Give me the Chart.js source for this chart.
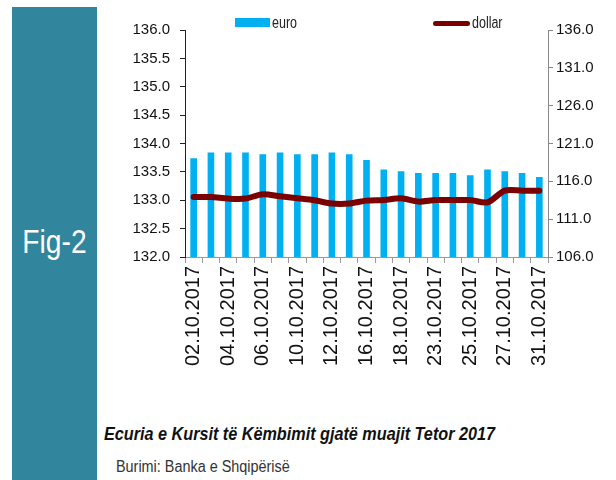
<!DOCTYPE html>
<html>
<head>
<meta charset="utf-8">
<script src="https://cdn.jsdelivr.net/npm/chart.js@4.4.1/dist/chart.umd.min.js"></script>
<style>
  html, body { margin: 0; padding: 0; background: #fff; }
  body { width: 616px; height: 480px; position: relative; overflow: hidden;
         font-family: "Liberation Sans", Arial, sans-serif; }
  #panel { position: absolute; left: 12px; top: 7px; width: 85px; height: 473px; background: #31859c; }
  #fig { position: absolute; left: 12px; width: 85px; top: 222px; text-align: center;
         color: #fff; font-size: 34px; transform: scaleX(0.83); }
  #wrap { position: absolute; left: 100px; top: 0; width: 516px; height: 400px; }
  .leg { position: absolute; top: 14px; font-size: 16px; color: #222;
         transform: scaleX(0.78); transform-origin: left top; }
  .sw { position: absolute; }
  #title { position: absolute; left: 104px; top: 424px; font-size: 18px; font-weight: bold;
           font-style: italic; color: #111; transform: scaleX(0.9); transform-origin: left top; }
  #src { position: absolute; left: 116px; top: 458px; font-size: 16px; color: #333;
         transform: scaleX(0.9); transform-origin: left top; }
</style>
</head>
<body>
<div id="panel"></div>
<div id="fig">Fig-2</div>
<div id="wrap"><canvas id="chart-fx"></canvas></div>
<div class="sw" style="left:235px;top:18px;width:35px;height:9px;background:#00b0f0"></div>
<div class="leg" style="left:272px">euro</div>
<div class="sw" style="left:433px;top:21px;width:37px;height:5px;border-radius:3px;background:#7b0000"></div>
<div class="leg" style="left:472px">dollar</div>
<div id="title">Ecuria e Kursit të Këmbimit gjatë muajit Tetor 2017</div>
<div id="src">Burimi: Banka e Shqipërisë</div>
<script>
const dates = ['02.10.2017', '03.10.2017', '04.10.2017', '05.10.2017', '06.10.2017', '09.10.2017',
  '10.10.2017', '11.10.2017', '12.10.2017', '13.10.2017', '16.10.2017', '17.10.2017', '18.10.2017',
  '20.10.2017', '23.10.2017', '24.10.2017', '25.10.2017', '26.10.2017', '27.10.2017', '30.10.2017',
  '31.10.2017'];
const euro = [133.74, 133.84, 133.84, 133.84, 133.81, 133.84, 133.81, 133.81, 133.84, 133.81, 133.71,
  133.54, 133.51, 133.48, 133.48, 133.48, 133.44, 133.54, 133.51, 133.48, 133.41];
const dollar = [113.93, 113.93, 113.72, 113.72, 114.29, 114.02, 113.76, 113.49, 113.06, 113.06, 113.45,
  113.53, 113.76, 113.32, 113.53, 113.53, 113.53, 113.23, 114.77, 114.77, 114.77];

const tickFont = { family: '"Liberation Sans", Arial', size: 15 };

const fxChart = new Chart(document.getElementById('chart-fx'), {
  type: 'bar',
  data: {
    labels: dates,
    datasets: [
      {
        type: 'line', label: 'dollar', data: dollar, yAxisID: 'y1', order: 0,
        borderColor: '#7b0000', borderWidth: 6, pointRadius: 0, tension: 0.3,
        borderCapStyle: 'round', borderJoinStyle: 'round'
      },
      {
        type: 'bar', label: 'euro', data: euro, yAxisID: 'y', order: 1,
        backgroundColor: '#00b0f0', categoryPercentage: 0.8, barPercentage: 0.48
      }
    ]
  },
  options: {
    responsive: true,
    maintainAspectRatio: false,
    animation: false,
    layout: { padding: { top: 30, left: 0, right: 0, bottom: 0 } },
    plugins: { legend: { display: false }, tooltip: { enabled: false } },
    scales: {
      x: {
        offset: true,
        grid: { offset: true, drawOnChartArea: false, tickLength: 6, color: '#999' },
        border: { color: '#999', width: 1 },
        ticks: {
          autoSkip: false, minRotation: 90, maxRotation: 90, padding: 3, color: '#111',
          font: { family: '"Liberation Sans", Arial', size: 20 },
          callback: (v, i) => i % 2 === 0 ? dates[i] : ''
        },
        afterFit: (s) => { s.height = 143; }
      },
      y: {
        position: 'left', min: 132, max: 136,
        grid: { drawOnChartArea: false, tickLength: 5, color: '#222' },
        border: { color: '#222', width: 1 },
        ticks: { stepSize: 0.5, padding: 10, color: '#111', font: tickFont,
          callback: (v) => v.toFixed(1) },
        afterFit: (s) => { s.width = 85; }
      },
      y1: {
        position: 'right', min: 106, max: 136,
        grid: { drawOnChartArea: false, tickLength: 5, color: '#888' },
        border: { color: '#888', width: 1 },
        ticks: { stepSize: 5, padding: 3, color: '#111', font: tickFont,
          callback: (v) => v.toFixed(1) },
        afterFit: (s) => { s.width = 68; }
      }
    }
  }
});
</script>
</body>
</html>
